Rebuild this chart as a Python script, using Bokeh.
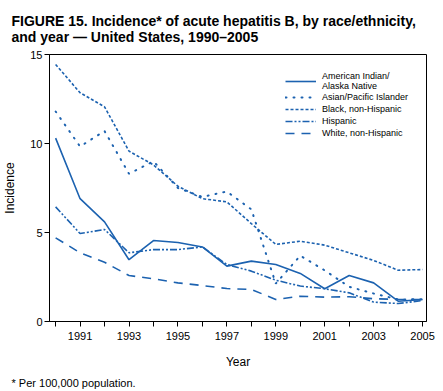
from bokeh.plotting import figure
from bokeh.models import FixedTicker, Title, Range1d, Legend, LegendItem
from bokeh.embed import file_html
from bokeh.resources import INLINE

years = list(range(1990, 2006))
ai_an = [10.3, 6.9, 5.6, 3.47, 4.55, 4.44, 4.19, 3.11, 3.39, 3.2, 2.7, 1.84, 2.58, 2.17, 1.14, 1.24]
asian = [11.8, 9.83, 10.7, 8.3, 9.0, 7.5, 7.0, 7.3, 6.3, 2.13, 3.7, 2.87, 1.95, 1.57, 1.24, 1.25]
black = [14.44, 12.85, 12.06, 9.57, 8.8, 7.6, 6.9, 6.72, 5.5, 4.33, 4.51, 4.29, 3.86, 3.43, 2.88, 2.92]
hispanic = [6.44, 4.94, 5.17, 3.86, 4.04, 4.04, 4.19, 3.2, 2.83, 2.32, 1.99, 1.84, 1.61, 1.09, 1.01, 1.18]
white = [4.7, 3.86, 3.33, 2.58, 2.4, 2.17, 2.02, 1.85, 1.8, 1.24, 1.42, 1.37, 1.39, 1.28, 1.24, 1.24]
series_labels = ["American Indian/\nAlaska Native", "Asian/Pacific Islander", "Black, non-Hispanic",
                 "Hispanic", "White, non-Hispanic"]
y_ticks = [0, 5, 10, 15]

BLUE = "#1c62b0"
FONT = "Liberation Sans"

p = figure(frame_width=377, frame_height=267, output_backend="svg", toolbar_location=None,
           x_range=Range1d(1989.75, 2005.16), y_range=Range1d(0, 15),
           min_border_left=38, min_border_right=12, min_border_top=0, min_border_bottom=0)
p.background_fill_color = "white"
p.border_fill_color = "white"
p.outline_line_color = "black"
p.outline_line_width = 1
p.xgrid.visible = False
p.ygrid.visible = False

styles = [
    dict(line_dash="solid", line_width=1.6),
    dict(line_dash="1 7", line_width=2.0, line_cap="round"),
    dict(line_dash="3 2", line_width=1.6),
    dict(line_dash="7 2 2 2 2 2", line_width=1.6),
    dict(line_dash="9 7", line_width=1.6),
]
items = []
for data, lab, st in zip([ai_an, asian, black, hispanic, white], series_labels, styles):
    r = p.line(years, data, line_color=BLUE, **st)
    items.append(LegendItem(label=lab, renderers=[r]))

legend = Legend(items=items, location=(236, 182))
legend.border_line_alpha = 0
legend.background_fill_alpha = 0
legend.label_text_font = FONT
legend.label_text_font_size = "9px"
legend.label_text_color = "black"
legend.glyph_width = 31
legend.glyph_height = 12
legend.label_height = 12
legend.label_standoff = 6
legend.spacing = 0
legend.padding = 0
legend.margin = 0
p.add_layout(legend)

# axes
p.xaxis.ticker = FixedTicker(ticks=years)
p.xaxis.major_label_overrides = {y: (str(y) if y % 2 == 1 else "") for y in years}
p.yaxis.ticker = FixedTicker(ticks=y_ticks)
for ax in [p.xaxis[0], p.yaxis[0]]:
    ax.axis_line_color = "black"
    ax.major_tick_line_color = "black"
    ax.minor_tick_line_color = None
    ax.major_tick_in = 0
    ax.major_tick_out = 5
    ax.major_label_text_font = FONT
    ax.major_label_text_font_size = "11px"
    ax.major_label_text_color = "black"
    ax.axis_label_text_font = FONT
    ax.axis_label_text_font_size = "12px"
    ax.axis_label_text_font_style = "normal"
    ax.axis_label_text_color = "black"
p.xaxis.axis_label = "Year"
p.yaxis.axis_label = "Incidence"
p.xaxis.major_label_standoff = 5
p.xaxis.axis_label_standoff = 12
p.yaxis.major_label_standoff = 2
p.yaxis.axis_label_standoff = 10

# title (two lines)
p.title.visible = False
t = Title(text="FIGURE 15. Incidence* of acute hepatitis B, by race/ethnicity,\n"
               "and year \u2014 United States, 1990\u20132005",
          text_font=FONT, text_font_size="14px", text_font_style="bold", text_color="black",
          align="left", offset=-38, standoff=20)
p.add_layout(t, "above")

foot = Title(text="* Per 100,000 population.", text_font=FONT, text_font_size="11px",
             text_font_style="normal", text_color="black", align="left", offset=-38,
             standoff=7)
p.add_layout(foot, "below")

open("out.html", "w").write(file_html(p, INLINE))
